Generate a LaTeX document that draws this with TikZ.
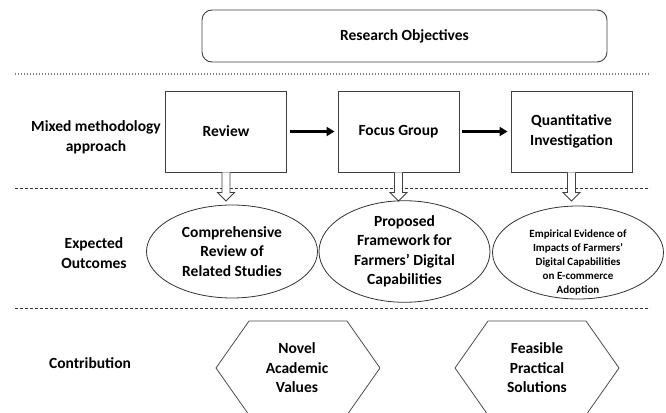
\documentclass[tikz,border=0pt]{standalone}
\usepackage{fontspec}
\setmainfont{Carlito}
\usetikzlibrary{arrows.meta,shapes.geometric}
\begin{document}
\begin{tikzpicture}[x=1pt,y=-1pt,
  txt/.style={font=\bfseries\fontsize{15.5}{19.5}\selectfont, align=center, text=black},
  smalltxt/.style={font=\bfseries\fontsize{11}{13.8}\selectfont, align=center, text=black},
  stagebox/.style={draw=black!75, line width=0.9pt, minimum width=121pt, minimum height=81pt, inner sep=2pt, txt},
  outcome/.style={draw=black!80, ellipse, line width=0.8pt, minimum width=171pt, minimum height=93pt, inner sep=0pt, txt},
  sepdots/.style={draw=black!50, line width=1.3pt, dash pattern=on 1.4pt off 1.6pt},
  sepdash/.style={draw=black!80, line width=0.7pt, dash pattern=on 3pt off 2pt},
  flow/.style={line width=2.6pt, -{Triangle[length=8pt,width=9pt]}, shorten <=3pt, shorten >=3pt},
  hollow/.style={draw=black!75, line width=0.8pt, fill=white, line join=miter},
  hexside/.style={draw=black!70, line width=0.8pt}
]
\useasboundingbox (0,0) rectangle (666,412);

% objectives banner
\node[draw=black!75, line width=0.9pt, rounded corners=10pt, minimum width=405pt, minimum height=52pt, txt]
  (obj) at (404.5,36) {Research Objectives};

% section separators
\coordinate (s1a) at (15,74);  \coordinate (s1b) at (650,74);
\coordinate (s2a) at (15,188); \coordinate (s2b) at (650,188);
\coordinate (s3a) at (15,308); \coordinate (s3b) at (650,308);
\draw[sepdots] (s1a) -- (s1b);
\draw[sepdash] (s2a) -- (s2b);
\draw[sepdash] (s3a) -- (s3b);

% row labels
\node[txt] (lab1) at (96,137.5) {Mixed methodology\\approach};
\node[txt] (lab2) at (94,253) {Expected\\Outcomes};
\node[txt] (lab3) at (90,363) {Contribution};

% methodology stages
\node[stagebox] (rev) at (226,131.5) {Review};
\node[stagebox] (foc) at (398.5,131.5) {Focus Group};
\node[stagebox] (qnt) at (571.5,131.5) {Quantitative\\Investigation};
\draw[flow] (rev) -- (foc);
\draw[flow] (foc) -- (qnt);

% hollow arrows from stages to outcomes
\foreach \b in {rev,foc,qnt}{
  \draw[hollow] (\b.south) ++(-4,0) -- ++(0,20) -- ++(-4.5,0) -- ++(8.5,8.5)
    -- ++(8.5,-8.5) -- ++(-4.5,0) -- ++(0,-20);
}

% expected outcomes
\node[outcome] (o1) at (232,251.5) {Comprehensive\\Review of\\Related Studies};
\node[outcome] (o2) at (404.5,251.5) {Proposed\\Framework for\\Farmers’ Digital\\Capabilities};
\node[outcome] (o3) at (578,252.5) {};
\node[smalltxt] (o3t) at ([yshift=-10pt]o3.center)
  {Empirical Evidence of\\Impacts of Farmers’\\Digital Capabilities\\on E-commerce\\Adoption};

% contributions
\coordinate (h1) at (298,368);
\coordinate (h2) at (537,368);
\foreach \h in {h1,h2}{
  \draw[hexside] (\h) ++(-82,0) -- ++(33,-47) -- ++(98,0) -- ++(33,47)
    -- ++(-33,47) -- ++(-98,0) -- cycle;
}
\node[txt] (c1) at ([xshift=-1pt]h1) {Novel\\Academic\\Values};
\node[txt] (c2) at (h2) {Feasible\\Practical\\Solutions};
\end{tikzpicture}
\end{document}
